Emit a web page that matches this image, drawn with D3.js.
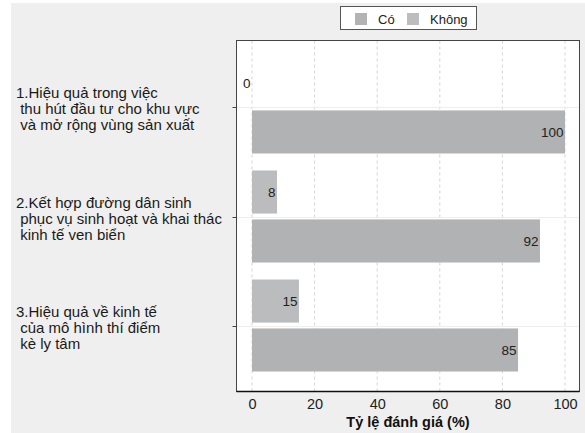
<!DOCTYPE html>
<html><head><meta charset="utf-8">
<script src="https://cdn.jsdelivr.net/npm/d3@7"></script>
<style>body{margin:0;background:#fff}svg{display:block}text{font-family:"Liberation Sans",Arial,sans-serif}</style>
</head><body>
<svg id="c" width="585" height="433"></svg>
<script>
const categories = [
  ["1.Hiệu quả trong việc", " thu hút đầu tư cho khu vực", " và mở rộng vùng sản xuất"],
  ["2.Kết hợp đường dân sinh", " phục vụ sinh hoạt và khai thác", " kinh tế ven biển"],
  ["3.Hiệu quả về kinh tế", " của mô hình thí điểm", " kè ly tâm"]
];
const seriesNames = ["Có", "Không"];
const coValues = [100, 92, 85];
const khongValues = [0, 8, 15];
const xTicks = [0, 20, 40, 60, 80, 100];
const xTitle = "Tỷ lệ đánh giá (%)";
const colors = {"Có": "#b0b2b4", "Không": "#babcbe"};

const svg = d3.select("#c");
svg.append("rect").attr("x", 11).attr("y", 3).attr("width", 574).attr("height", 430).attr("fill", "#efefef");

const frame = {l: 236.5, t: 40.5, r: 579.5, b: 391.5};
svg.append("rect").attr("x", frame.l).attr("y", frame.t).attr("width", frame.r - frame.l).attr("height", frame.b - frame.t)
  .attr("fill", "#fff");

const x = d3.scaleLinear().domain([0, 100]).range([252, 565]);
const idx = categories.map((d, i) => i);
const y0 = d3.scaleBand().domain(idx).range([41, 392]).paddingInner(0.156).paddingOuter(0.188);
const y1 = d3.scaleBand().domain(["Không", "Có"]).range([0, y0.bandwidth()]).paddingInner(0.12);

// grid
svg.append("g").selectAll("line").data(xTicks).join("line")
  .attr("x1", d => x(d)).attr("x2", d => x(d)).attr("y1", frame.t).attr("y2", frame.b)
  .attr("stroke", "#d4d4d4").attr("stroke-dasharray", "3,3").attr("stroke-width", 1);
svg.append("g").selectAll("line").data(idx).join("line")
  .attr("x1", frame.l).attr("x2", frame.r)
  .attr("y1", d => Math.round(y0(d) + y0.bandwidth() / 2) + 0.5).attr("y2", d => Math.round(y0(d) + y0.bandwidth() / 2) + 0.5)
  .attr("stroke", "#eeeeee");

const rows = [];
idx.forEach(i => {
  rows.push({i, s: "Không", v: khongValues[i]});
  rows.push({i, s: "Có", v: coValues[i]});
});
svg.append("g").selectAll("rect").data(rows).join("rect")
  .attr("x", x(0)).attr("y", d => y0(d.i) + y1(d.s)).attr("width", d => x(d.v) - x(0)).attr("height", y1.bandwidth())
  .attr("fill", d => colors[d.s]);
svg.append("g").selectAll("text").data(rows).join("text")
  .attr("x", d => x(d.v) - 1.5).attr("y", d => y0(d.i) + y1(d.s) + y1.bandwidth() / 2 + 5)
  .attr("text-anchor", "end").attr("font-size", "13.5px").attr("fill", "#222").text(d => d.v);

// frame
svg.append("rect").attr("x", frame.l).attr("y", frame.t).attr("width", frame.r - frame.l).attr("height", frame.b - frame.t)
  .attr("fill", "none").attr("stroke", "#444");
svg.append("line").attr("x1", frame.l).attr("x2", frame.r).attr("y1", frame.b).attr("y2", frame.b).attr("stroke", "#111").attr("stroke-width", 1.5);

// x axis
const xa = svg.append("g").attr("transform", `translate(0,${frame.b})`)
  .call(d3.axisBottom(x).tickValues(xTicks).tickSize(0).tickPadding(0));
xa.select(".domain").remove();
xa.selectAll("text").attr("font-size", "14.5px").attr("fill", "#222").attr("dy", null).attr("y", 17)
  .style("font-family", '"Liberation Sans",Arial,sans-serif');
svg.append("text").attr("x", (frame.l + frame.r) / 2).attr("y", 426.5).attr("text-anchor", "middle")
  .attr("font-size", "14.5px").attr("font-weight", "bold").attr("fill", "#111").text(xTitle);

// y ticks
const yc = i => Math.round(y0(i) + y0.bandwidth() / 2) + 0.5;
svg.append("g").selectAll("line").data(idx).join("line")
  .attr("x1", frame.l - 4).attr("x2", frame.l).attr("y1", yc).attr("y2", yc).attr("stroke", "#444");
const lab = svg.append("g").selectAll("text").data(idx).join("text")
  .attr("font-size", "15px").attr("fill", "#1a1a1a").style("white-space", "pre");
lab.each(function(i) {
  const t = d3.select(this);
  categories[i].forEach((line, k) => {
    t.append("tspan").attr("x", 16).attr("y", yc(i) + 6 + (k - 1) * 16).text(line);
  });
});

// legend
const lg = svg.append("g");
lg.append("rect").attr("x", 340.5).attr("y", 6.5).attr("width", 136).attr("height", 23).attr("fill", "#fff").attr("stroke", "#555");
const lx = [355, 407];
const ltx = [378, 430];
seriesNames.forEach((s, k) => {
  lg.append("rect").attr("x", lx[k]).attr("y", 13).attr("width", 12).attr("height", 12).attr("fill", k === 0 ? "#b3b3b3" : "#bbbdbf");
  lg.append("text").attr("x", ltx[k]).attr("y", 23.5).attr("font-size", "13px").attr("fill", "#222").text(s);
});
</script>
</body></html>
